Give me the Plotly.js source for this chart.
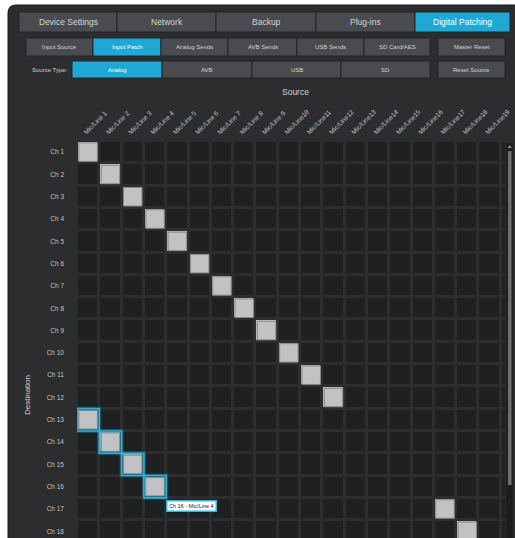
<!DOCTYPE html>
<html><head><meta charset="utf-8">
<script src="https://cdn.plot.ly/plotly-3.0.1.min.js"></script>
<style>html,body{margin:0;padding:0;background:#fff;}#chart{width:515px;height:538px;}</style>
</head><body><div id="chart"></div>
<script>
// ---------- data ----------
const sources = ['Mic/Line 1','Mic/Line 2','Mic/Line 3','Mic/Line 4','Mic/Line 5','Mic/Line 6','Mic/Line 7','Mic/Line 8','Mic/Line 9',
  'Mic/Line10','Mic/Line11','Mic/Line12','Mic/Line13','Mic/Line14','Mic/Line15','Mic/Line16','Mic/Line17','Mic/Line18','Mic/Line19','Mic/Line20'];
const destinations = ['Ch 1','Ch 2','Ch 3','Ch 4','Ch 5','Ch 6','Ch 7','Ch 8','Ch 9','Ch 10','Ch 11','Ch 12','Ch 13','Ch 14','Ch 15','Ch 16','Ch 17','Ch 18'];
// source patched to each destination (same order as destinations)
const patchedSource = ['Mic/Line 1','Mic/Line 2','Mic/Line 3','Mic/Line 4','Mic/Line 5','Mic/Line 6','Mic/Line 7','Mic/Line 8','Mic/Line 9',
  'Mic/Line10','Mic/Line11','Mic/Line12','Mic/Line 1','Mic/Line 2','Mic/Line 3','Mic/Line 4','Mic/Line17','Mic/Line18'];
const selectedDestinations = ['Ch 13','Ch 14','Ch 15','Ch 16'];
const tooltipDestination = 'Ch 16';
const tooltipText = 'Ch 16 - Mic/Line 4';
const mainTabs = ['Device Settings','Network','Backup','Plug-ins','Digital Patching'];
const subTabs = ['Input Source','Input Patch','Analog Sends','AVB Sends','USB Sends','SD Card/AES'];
const sourceTypes = ['Analog','AVB','USB','SD'];
const sideButtons = ['Master Reset','Reset Source'];
const activeMainTab = 'Digital Patching', activeSubTab = 'Input Patch', activeSourceType = 'Analog';
const sourceTypeLabel = 'Source Type:';
const xTitle = 'Source', yTitle = 'Destination';

// ---------- layout geometry ----------
const W = 515, H = 538;
const X = px => px / W, Y = py => 1 - py / H;
const FONT = 'Liberation Sans, Arial, Helvetica, sans-serif';
const CYAN = '#1fa8d5', BTN = '#4a4b4e', BTN_LINE = '#232426', PANEL = '#2c2d2f';
const row1 = {y0: 12, y1: 32, edges: [19, 117, 216, 316, 415, 510], size: 8.5};
const row2 = {y0: 38, y1: 56, edges: [26, 93, 161, 228, 297, 364, 430], size: 6};
const row3 = {y0: 61, y1: 78, edges: [72, 162, 252, 341, 430], size: 6};
const side = {x0: 438, x1: 505};

const shapes = [], annotations = [];
// panel
const pr = 8, px0 = 8, py0 = 5, px1 = 540, py1 = 570;
shapes.push({type: 'path', xref: 'paper', yref: 'paper', layer: 'below',
  path: `M ${X(px0)},${Y(py0 + pr)} Q ${X(px0)},${Y(py0)} ${X(px0 + pr)},${Y(py0)} L ${X(px1)},${Y(py0)} L ${X(px1)},${Y(py1)} L ${X(px0)},${Y(py1)} Z`,
  fillcolor: PANEL, line: {color: '#1b1b1c', width: 1}});
// strip behind main tabs
shapes.push({type: 'rect', xref: 'paper', yref: 'paper', layer: 'below', x0: X(row1.edges[0]), x1: X(row1.edges[5]), y0: Y(row1.y0), y1: Y(row1.y1), fillcolor: BTN, line: {width: 0}});

function button(label, x0, x1, y0, y1, active, size) {
  shapes.push({type: 'rect', xref: 'paper', yref: 'paper', layer: 'below', x0: X(x0), x1: X(x1), y0: Y(y0), y1: Y(y1),
    fillcolor: active ? CYAN : BTN, line: {color: BTN_LINE, width: 1}});
  annotations.push({xref: 'paper', yref: 'paper', x: X((x0 + x1) / 2), y: Y((y0 + y1) / 2), text: label, showarrow: false,
    xanchor: 'center', yanchor: 'middle', font: {family: FONT, size: size, color: active ? '#ffffff' : '#d2d3d5'}});
}
mainTabs.forEach((t, i) => button(t, row1.edges[i], row1.edges[i + 1], row1.y0, row1.y1, t === activeMainTab, row1.size));
subTabs.forEach((t, i) => button(t, row2.edges[i], row2.edges[i + 1], row2.y0, row2.y1, t === activeSubTab, row2.size));
sourceTypes.forEach((t, i) => button(t, row3.edges[i], row3.edges[i + 1], row3.y0, row3.y1, t === activeSourceType, row3.size));
button(sideButtons[0], side.x0, side.x1, row2.y0, row2.y1, false, row2.size);
button(sideButtons[1], side.x0, side.x1, row3.y0, row3.y1, false, row3.size);
annotations.push({xref: 'paper', yref: 'paper', x: X(70), y: Y(69.5), text: sourceTypeLabel, showarrow: false,
  xanchor: 'right', yanchor: 'middle', font: {family: FONT, size: 6, color: '#d2d3d5'}});
// titles
annotations.push({xref: 'paper', yref: 'paper', x: X(295), y: Y(92), text: xTitle, showarrow: false,
  xanchor: 'center', yanchor: 'middle', font: {family: FONT, size: 8.5, color: '#d0d1d3'}});
annotations.push({xref: 'paper', yref: 'paper', x: X(27), y: Y(395), text: yTitle, showarrow: false, textangle: -90,
  xanchor: 'center', yanchor: 'middle', font: {family: FONT, size: 8, color: '#d0d1d3'}});
// scrollbar
shapes.push({type: 'rect', xref: 'paper', yref: 'paper', x0: X(506), x1: X(513), y0: Y(143), y1: Y(545), fillcolor: '#1c1d1f', line: {width: 0}});
shapes.push({type: 'rect', xref: 'paper', yref: 'paper', x0: X(508), x1: X(511.5), y0: Y(151), y1: Y(485), fillcolor: '#6f7073', line: {width: 0}});
shapes.push({type: 'path', xref: 'paper', yref: 'paper', path: `M ${X(507.5)},${Y(148)} L ${X(512)},${Y(148)} L ${X(509.75)},${Y(145)} Z`, fillcolor: '#8a8b8e', line: {width: 0}});

// selection outlines around patched cells of the selected destinations
selectedDestinations.forEach(d => {
  const r = destinations.indexOf(d), c = sources.indexOf(patchedSource[r]);
  shapes.push({type: 'rect', xref: 'x', yref: 'y', x0: c - 0.5, x1: c + 0.5, y0: r - 0.5, y1: r + 0.5, line: {color: 'rgba(31,168,213,0.3)', width: 4}});
});
selectedDestinations.forEach(d => {
  const r = destinations.indexOf(d), c = sources.indexOf(patchedSource[r]);
  shapes.push({type: 'rect', xref: 'x', yref: 'y', x0: c - 0.5, x1: c + 0.5, y0: r - 0.5, y1: r + 0.5, line: {color: '#2ab4e0', width: 1.6}});
});
// tooltip
{
  const r = destinations.indexOf(tooltipDestination), c = sources.indexOf(patchedSource[r]);
  annotations.push({xref: 'x', yref: 'y', x: c + 0.5, y: r + 0.5, text: tooltipText, showarrow: false, xanchor: 'left', yanchor: 'top',
    xshift: 0, yshift: -2, bgcolor: '#ffffff', bordercolor: '#35b6e0', borderwidth: 1.5, borderpad: 1.5,
    font: {family: FONT, size: 5.5, color: '#222222'}});
}

// ---------- traces ----------
const z = destinations.map((d, r) => sources.map(s => (patchedSource[r] === s ? 1 : 0)));
const heat = {type: 'heatmap', x: sources, y: destinations, z: z, xgap: 3, ygap: 3, showscale: false, hoverinfo: 'skip',
  colorscale: [[0, '#1f2022'], [1, '#c1c2c4']], zmin: 0, zmax: 1};
const patched = {type: 'scatter', mode: 'markers', x: patchedSource, y: destinations, hoverinfo: 'skip', cliponaxis: true,
  marker: {symbol: 'square', size: 18.5, color: '#c1c2c4', line: {color: '#86878a', width: 1}}};

const layout = {
  width: W, height: H, margin: {l: 0, r: 0, t: 0, b: 0}, paper_bgcolor: '#ffffff', plot_bgcolor: '#333436',
  showlegend: false, shapes: shapes, annotations: annotations,
  xaxis: {type: 'category', domain: [X(77), X(505)], range: [-0.5, 18.69], side: 'top', tickangle: -45, automargin: false,
    showgrid: false, zeroline: false, showline: false, ticks: '', ticklabelstandoff: 3, ticklabelshift: -4, fixedrange: true,
    tickfont: {family: FONT, size: 6.5, color: '#c6c7c9'}},
  yaxis: {type: 'category', domain: [0, Y(141)], range: [17.3, -0.5], automargin: false,
    showgrid: false, zeroline: false, showline: false, ticks: '', ticklabelstandoff: 12, fixedrange: true,
    tickfont: {family: FONT, size: 6.5, color: '#c6c7c9'}}
};
Plotly.newPlot('chart', [heat, patched], layout, {displayModeBar: false, staticPlot: true});
</script></body></html>
